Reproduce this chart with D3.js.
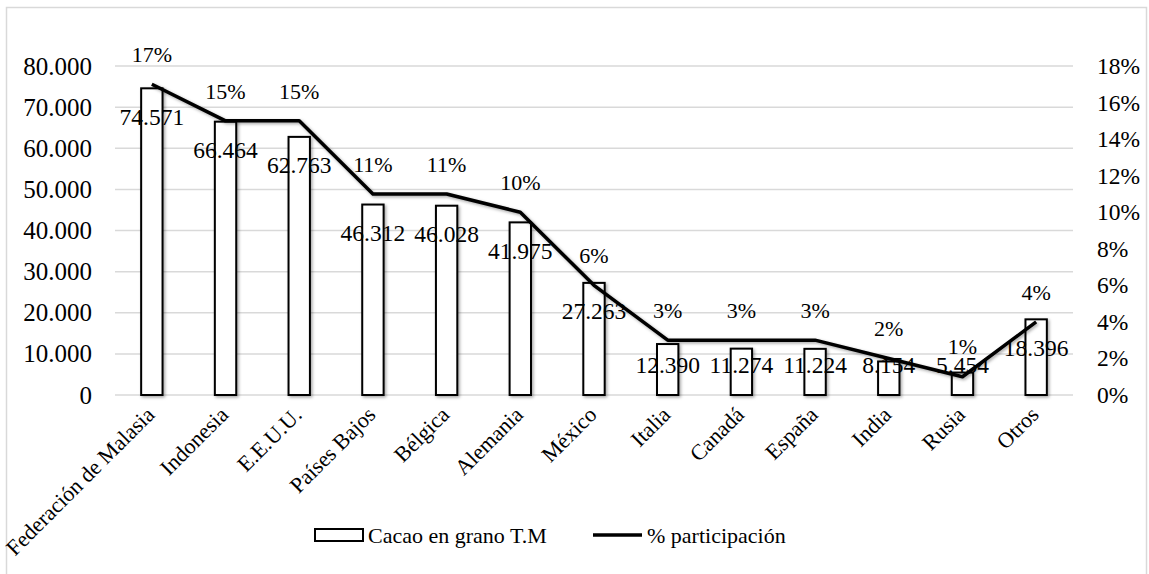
<!DOCTYPE html>
<html>
<head>
<meta charset="utf-8">
<script src="https://cdn.jsdelivr.net/npm/d3@7"></script>
<style>
  html, body { margin: 0; padding: 0; background: #fff; }
  svg text { font-family: "Liberation Serif", "Times New Roman", Times, serif !important; }
</style>
</head>
<body>
<svg id="chart" width="1149" height="574"></svg>
<script>
const categories = ["Federación de Malasia", "Indonesia", "E.E.U.U.", "Países Bajos", "Bélgica", "Alemania", "México", "Italia", "Canadá", "España", "India", "Rusia", "Otros"];
const cacaoValues = [74571, 66464, 62763, 46312, 46028, 41975, 27263, 12390, 11274, 11224, 8154, 5454, 18396];
const shareValues = [17, 15, 15, 11, 11, 10, 6, 3, 3, 3, 2, 1, 4];
const leftTicks = [0, 10000, 20000, 30000, 40000, 50000, 60000, 70000, 80000];
const rightTicks = [0, 2, 4, 6, 8, 10, 12, 14, 16, 18];
const seriesNames = ["Cacao en grano T.M", "% participación"];

const plot = { left: 115, right: 1073, top: 66, bottom: 395 };
const FONT = "'Liberation Serif', 'Times New Roman', Times, serif";

const svg = d3.select("#chart");
const locale = d3.formatLocale({ decimal: ",", thousands: ".", grouping: [3], currency: ["", ""] });
const fmt = locale.format(",d");

const defs = svg.append("defs");
const f = defs.append("filter").attr("id", "shadow").attr("x", "-20%").attr("y", "-20%").attr("width", "140%").attr("height", "140%");
f.append("feDropShadow").attr("dx", 1.5).attr("dy", 1.5).attr("stdDeviation", 1.6).attr("flood-color", "#000").attr("flood-opacity", 0.35);

svg.append("rect").attr("x", 6.5).attr("y", 7.5).attr("width", 1140).attr("height", 600)
  .attr("fill", "none").attr("stroke", "#d9d9d9").attr("stroke-width", 1.5);

const x = d3.scaleBand().domain(categories).range([plot.left, plot.right]).padding(0);
const yL = d3.scaleLinear().domain([0, 80000]).range([plot.bottom, plot.top]);
const yR = d3.scaleLinear().domain([0, 18]).range([plot.bottom, plot.top]);
const barW = x.bandwidth() * 0.29;
const cx = d => x(d) + x.bandwidth() / 2;

svg.append("g").selectAll("line").data(leftTicks).join("line")
  .attr("x1", plot.left).attr("x2", plot.right)
  .attr("y1", d => yL(d)).attr("y2", d => yL(d))
  .attr("stroke", "#d9d9d9").attr("stroke-width", 1.5);

const styleText = size => sel => sel.attr("font-size", size).attr("font-family", FONT).style("font-family", FONT).attr("fill", "#000");

const leftAxis = d3.axisLeft(yL).tickValues(leftTicks).tickFormat(d => fmt(d)).tickSize(0).tickPadding(23);
const gL = svg.append("g").attr("transform", `translate(${plot.left},0)`).call(leftAxis);
gL.attr("font-family", FONT);
gL.select(".domain").remove();
gL.selectAll("text").call(styleText(25));

const rightAxis = d3.axisRight(yR).tickValues(rightTicks).tickFormat(d => d + "%").tickSize(0).tickPadding(24);
const gR = svg.append("g").attr("transform", `translate(${plot.right},0)`).call(rightAxis);
gR.attr("font-family", FONT);
gR.select(".domain").remove();
gR.selectAll("text").call(styleText(23.5));

const bottomAxis = d3.axisBottom(x).tickSize(0).tickPadding(0);
const gB = svg.append("g").attr("transform", `translate(0,${plot.bottom})`).call(bottomAxis);
gB.attr("font-family", FONT);
gB.select(".domain").remove();
gB.selectAll("text").call(styleText(22))
  .attr("text-anchor", "end")
  .attr("dy", null).attr("y", 0)
  .attr("transform", "translate(4,21) rotate(-45)");

const data = categories.map((c, i) => ({ c, v: cacaoValues[i], s: shareValues[i] }));
svg.append("g").attr("filter", "url(#shadow)").selectAll("rect").data(data).join("rect")
  .attr("x", d => cx(d.c) - barW / 2)
  .attr("y", d => yL(d.v))
  .attr("width", barW)
  .attr("height", d => yL(0) - yL(d.v))
  .attr("fill", "#fff").attr("stroke", "#000").attr("stroke-width", 2);

const line = d3.line().x(d => cx(d.c)).y(d => yR(d.s));
svg.append("path").datum(data).attr("d", line)
  .attr("fill", "none").attr("stroke", "#000").attr("stroke-width", 3.5)
  .attr("stroke-linejoin", "round").attr("filter", "url(#shadow)");

svg.append("g").selectAll("text").data(data).join("text")
  .attr("x", d => cx(d.c))
  .attr("y", d => Math.min(yL(d.v) + 28, yL(0) - 30))
  .attr("dy", "0.35em")
  .attr("text-anchor", "middle")
  .text(d => fmt(d.v)).call(styleText(23.5));

svg.append("g").selectAll("text").data(data).join("text")
  .attr("x", d => cx(d.c))
  .attr("y", d => yR(d.s) - 30)
  .attr("dy", "0.35em")
  .attr("text-anchor", "middle")
  .text(d => d.s + "%").call(styleText(22));

const lg = svg.append("g");
lg.append("rect").attr("x", 315).attr("y", 529).attr("width", 48).attr("height", 12)
  .attr("fill", "#fff").attr("stroke", "#000").attr("stroke-width", 2);
lg.append("text").attr("x", 368).attr("y", 535).attr("dy", "0.35em").text(seriesNames[0]).call(styleText(22));
lg.append("line").attr("x1", 593).attr("x2", 642).attr("y1", 535).attr("y2", 535)
  .attr("stroke", "#000").attr("stroke-width", 3.5);
lg.append("text").attr("x", 647).attr("y", 535).attr("dy", "0.35em").text(seriesNames[1]).call(styleText(22));
</script>
</body>
</html>
